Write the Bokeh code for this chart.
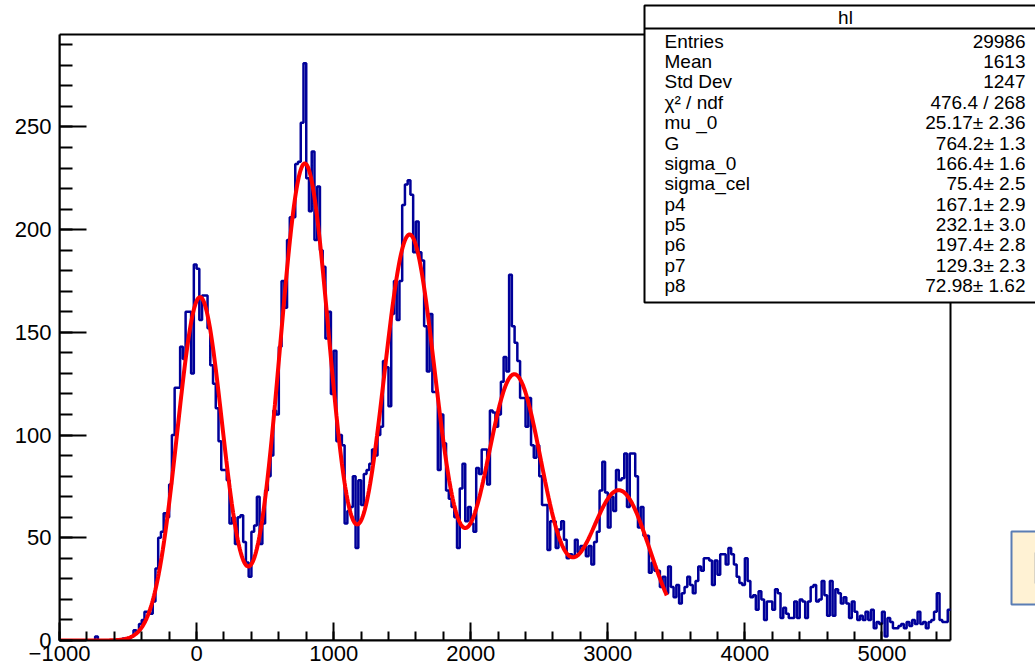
import numpy as np
from bokeh.plotting import figure
from bokeh.models import SingleIntervalTicker, Range1d
from bokeh.core.properties import value
from bokeh.embed import file_html
from bokeh.resources import INLINE

# ---------------- data ----------------
BIN_LO = -1000
BIN_W = 20
counts_m1000 = [0, 0, 0, 0, 0, 0, 0, 0, 0, 0,
                0, 0, 0, 2, 0, 0, 0, 0, 0, 0,
                0, 0]
counts_m560 = [0, 1, 0, 1, 2, 5, 4, 8, 10, 14,
               14, 13, 19, 35, 50, 53, 62, 60, 76, 100,
               123, 123, 143, 137, 160, 160, 130, 183, 181, 156,
               168, 168, 152, 134, 125, 113, 97, 83, 83, 78,
               57, 60, 47, 60, 61, 48, 38, 31, 53, 56,
               70, 47, 57, 73]
counts_520 = [80, 90, 112, 110, 143, 175, 162, 195, 206, 206,
              232, 233, 252, 281, 225, 209, 238, 195, 221, 190,
              182, 147, 160, 120, 141, 97, 100, 95, 57, 63,
              65, 80, 45, 78, 66, 81, 83, 86, 93, 90,
              100, 104, 136, 133, 114, 159, 175, 156, 175, 212,
              222, 224, 217]
counts_1580 = [189, 204, 189, 185, 153, 131, 159, 121, 121, 83,
               110, 96, 73, 69, 65, 60, 45, 74, 86, 58,
               65, 57, 53, 84, 81, 93, 93, 76, 112, 111,
               104, 110, 126, 138, 131, 178, 153, 145, 136, 118,
               118, 104, 118, 95, 89, 95, 80, 66, 66, 44,
               58, 58, 45, 54]
counts_2660 = [58, 49, 40, 42, 41, 49, 43, 46, 46, 41,
               46, 37, 48, 53, 73, 87, 72, 55, 70, 63,
               83, 78, 79, 91, 65, 91, 91, 80, 55, 65,
               51, 51, 33, 38, 34, 34, 26, 31, 23, 36,
               26, 21, 27, 18, 23, 26, 31, 27, 23, 29,
               36, 34, 40]
counts_3720 = [40, 39, 27, 39, 32, 42, 42, 37, 45, 42,
               37, 31, 28, 27, 40, 29, 21, 22, 15, 24,
               20, 10, 19, 19, 15, 25, 23, 11, 16, 13,
               11, 11, 19, 11, 20, 19, 11, 19, 26, 27,
               19, 20, 29, 22, 12, 29, 12, 25, 23, 18,
               21, 18, 11]
counts_4780 = [19, 14, 10, 12, 10, 14, 10, 15, 6, 9,
               8, 14, 2, 11, 9, 6, 6, 7, 8, 6,
               9, 7, 10, 8, 14, 8, 9, 6, 9, 10,
               14, 23, 10, 9, 9, 15]

# fit parameters as shown in the stats box
fit_mu0 = 25.17
fit_G = 764.2
fit_sigma0 = 166.4
fit_sigma_cel = 75.4
fit_amps = [167.1, 232.1, 197.4, 129.3, 72.98]
fit_range = [-1000, 3430]

stat_title = "hl"
stat_names = ["Entries", "Mean", "Std Dev", "\u03c7\u00b2 / ndf", "mu _0", "G",
              "sigma_0", "sigma_cel", "p4", "p5", "p6", "p7", "p8"]
stat_values = ["29986", "1613", "1247", "476.4 / 268", "25.17\u00b1 2.36",
               "764.2\u00b1 1.3", "166.4\u00b1 1.6", "75.4\u00b1 2.5", "167.1\u00b1 2.9",
               "232.1\u00b1 3.0", "197.4\u00b1 2.8", "129.3\u00b1 2.3", "72.98\u00b1 1.62"]

x_ticks_major = 1000
y_ticks_major = 50
X_MIN, X_MAX = -1000, 5500
Y_MAX = 295

# ---------------- geometry ----------------
counts = (counts_m1000 + counts_m560 + counts_520 + counts_1580 +
          counts_2660 + counts_3720 + counts_4780)
edges = [BIN_LO + BIN_W * i for i in range(len(counts) + 1)]

# pixel layout of the frame (canvas coordinates)
FL, FR = 59, 950      # x of X_MIN / X_MAX
FB, FT = 640, 34      # y of 0 / Y_MAX
sx = (FR - FL) / (X_MAX - X_MIN)
sy = (FB - FT) / Y_MAX
CANVAS_W, CANVAS_H = 1035, 671
frame_w = CANVAS_W - FL
frame_h = FB
x_end = X_MIN + frame_w / sx
y_end = frame_h / sy


def dx(px):
    return X_MIN + (px - FL) / sx


def dy(py):
    return (FB - py) / sy


p = figure(frame_width=frame_w, frame_height=frame_h,
           min_border_left=FL, min_border_right=0, min_border_top=0,
           min_border_bottom=CANVAS_H - frame_h,
           x_range=Range1d(X_MIN, x_end), y_range=Range1d(0, y_end),
           output_backend="svg", toolbar_location=None,
           background_fill_color="white", border_fill_color="white",
           outline_line_color=None)
p.grid.visible = False

FONT = "Liberation Sans"

xa = p.xaxis[0]
xa.ticker = SingleIntervalTicker(interval=x_ticks_major, num_minor_ticks=5)
xa.bounds = (X_MIN, X_MAX)
xa.major_tick_in = 18
xa.major_tick_out = 0
xa.minor_tick_in = 9
xa.minor_tick_out = 0
xa.axis_line_width = 2
xa.major_tick_line_width = 2
xa.minor_tick_line_width = 2
xa.major_label_text_font = FONT
xa.major_label_text_font_size = "22px"
xa.major_label_text_color = "black"
xa.major_label_standoff = 5
xa.major_label_overrides = {-1000: "\u22121000"}

ya = p.yaxis[0]
ya.ticker = SingleIntervalTicker(interval=y_ticks_major, num_minor_ticks=5)
ya.bounds = (0, Y_MAX)
ya.major_tick_in = 27
ya.major_tick_out = 0
ya.minor_tick_in = 13
ya.minor_tick_out = 0
ya.axis_line_width = 2
ya.major_tick_line_width = 2
ya.minor_tick_line_width = 2
ya.major_label_text_font = FONT
ya.major_label_text_font_size = "22px"
ya.major_label_text_color = "black"
ya.major_label_standoff = 8

# frame box
p.quad(left=[X_MIN], right=[X_MAX], bottom=[0], top=[Y_MAX],
       fill_color=None, line_color="black", line_width=2)

# histogram outline
p.step(x=edges, y=counts + [counts[-1]], mode="after",
       line_color="#000099", line_width=2.5)

# fit curve from the displayed parameters
fx = np.linspace(fit_range[0], fit_range[1], 900)
fy = np.zeros_like(fx)
for k, a in enumerate(fit_amps):
    mu = fit_mu0 + k * fit_G
    sg = np.sqrt(fit_sigma0 ** 2 + k * fit_sigma_cel ** 2)
    fy += a * np.exp(-0.5 * ((fx - mu) / sg) ** 2)
p.line(fx, fy, line_color="#ff0000", line_width=4)

# stats box
p.quad(left=[dx(644)], right=[dx(1045)], top=[dy(5)], bottom=[dy(302)],
       fill_color="white", line_color="black", line_width=2)
p.segment(x0=[dx(644)], x1=[dx(1045)], y0=[dy(28)], y1=[dy(28)],
          line_color="black", line_width=2)
p.text(x=[dx(845)], y=[dy(17)], text=[stat_title], text_align="center",
       text_baseline="middle", text_font=value(FONT), text_font_size="19px",
       text_color="black")
row_y = [dy(40.7 + 20.36 * i) for i in range(len(stat_names))]
p.text(x=[dx(664)] * len(stat_names), y=row_y, text=stat_names,
       text_align="left", text_baseline="middle", text_font=value(FONT),
       text_font_size="19px", text_color="black")
p.text(x=[dx(1025)] * len(stat_values), y=row_y, text=stat_values,
       text_align="right", text_baseline="middle", text_font=value(FONT),
       text_font_size="19px", text_color="black")

# partially visible legend-like box at right edge
p.quad(left=[dx(1011)], right=[dx(1050)], top=[dy(531)], bottom=[dy(604)],
       fill_color="#fff2d4", line_color="#5a7db4", line_width=2)
p.quad(left=[dx(1034)], right=[dx(1050)], top=[dy(552)], bottom=[dy(583)],
       fill_color="#b8b8b8", line_color=None)

open("out.html", "w").write(file_html(p, INLINE, title="hl"))
